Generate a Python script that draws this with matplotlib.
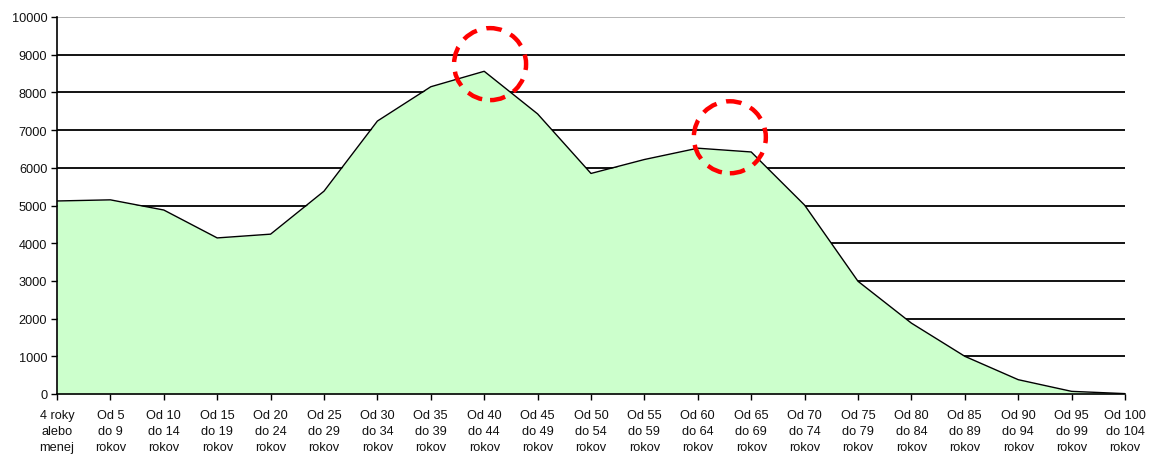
import matplotlib
matplotlib.use("Agg")
import matplotlib.pyplot as plt
from matplotlib.patches import Ellipse

categories = ["4 roky\nalebo\nmenej", "Od 5\ndo 9\nrokov", "Od 10\ndo 14\nrokov", "Od 15\ndo 19\nrokov",
              "Od 20\ndo 24\nrokov", "Od 25\ndo 29\nrokov", "Od 30\ndo 34\nrokov", "Od 35\ndo 39\nrokov",
              "Od 40\ndo 44\nrokov", "Od 45\ndo 49\nrokov", "Od 50\ndo 54\nrokov", "Od 55\ndo 59\nrokov",
              "Od 60\ndo 64\nrokov", "Od 65\ndo 69\nrokov", "Od 70\ndo 74\nrokov", "Od 75\ndo 79\nrokov",
              "Od 80\ndo 84\nrokov", "Od 85\ndo 89\nrokov", "Od 90\ndo 94\nrokov", "Od 95\ndo 99\nrokov",
              "Od 100\ndo 104\nrokov"]
values = [5120, 5150, 4880, 4140, 4240, 5380, 7240, 8150, 8560, 7430, 5850, 6220,
          6520, 6420, 5010, 2990, 1880, 1000, 380, 70, 10]
y_ticks = list(range(0, 10001, 1000))
circle_centers = [(8.11, 8750), (12.6, 6810)]

plt.rcParams['font.family'] = ['Liberation Sans', 'DejaVu Sans']

fig = plt.figure(figsize=(11.49, 4.56), dpi=100)
ax = fig.add_axes([57/1149, 61/456, (1125-57)/1149, (395-18)/456])

x = list(range(len(values)))
for t in y_ticks[1:]:
    ax.axhline(t, color='#000000' if t < 10000 else '#b0b0b0', lw=1.3, zorder=1)
ax.fill_between(x, values, 0, color='#CCFFCC', zorder=2, lw=0)
ax.plot(x, values, color='black', lw=1.0, zorder=3)

for cx, cy in circle_centers:
    e = Ellipse((cx, cy), width=72/53.4, height=72/37.7*1000, fill=False,
                edgecolor='#FF0000', lw=3.2, linestyle=(0, (3.5, 2.2)), zorder=5, clip_on=False)
    ax.add_patch(e)

ax.set_xlim(0, 20)
ax.set_ylim(0, 10000)
ax.set_yticks(y_ticks)
ax.set_xticks(x)
ax.set_xticklabels(categories, fontsize=9.2, linespacing=1.45, color='#111111')
ax.tick_params(axis='y', labelsize=9.2, labelcolor='#111111', length=4, width=1, pad=3)
ax.tick_params(axis='x', length=4, width=1, pad=7)
for s in ['top', 'right']:
    ax.spines[s].set_visible(False)
for s in ['left', 'bottom']:
    ax.spines[s].set_linewidth(1.2)
    ax.spines[s].set_zorder(6)

fig.savefig("out.png", dpi=100)
